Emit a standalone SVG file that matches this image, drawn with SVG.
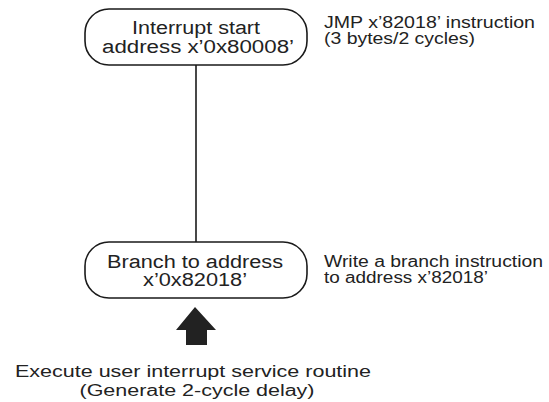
<svg xmlns="http://www.w3.org/2000/svg" width="549" height="402" viewBox="0 0 549 402">
<style>
.node{fill:#fff;stroke:#1a1a1a;stroke-width:1.6}
.t{font-family:"Liberation Sans",Arial,sans-serif;fill:#222}
.c{font-size:18px;text-anchor:middle}
.b{font-size:16px;text-anchor:middle}
.n{font-size:16px}
.conn{stroke:#1a1a1a;stroke-width:1.6;fill:none}
</style>
<rect width="549" height="402" fill="#fff"/>
<g id="connectors">
<line class="conn" x1="196" y1="65" x2="196" y2="242"/>
<polygon id="up-arrow" points="195,307 216,330 207,330 207,345 186,345 186,330 176,330" fill="#222"/>
</g>
<g id="node-start">
<rect class="node" x="85" y="9" width="222" height="56" rx="24" ry="24"/>
<text class="t c" x="196" y="34" textLength="128" lengthAdjust="spacingAndGlyphs">Interrupt start</text>
<text class="t c" x="198" y="53" textLength="192" lengthAdjust="spacingAndGlyphs">address x’0x80008’</text>
</g>
<g id="note-jmp">
<text class="t n" x="324" y="28" textLength="211" lengthAdjust="spacingAndGlyphs">JMP x’82018’ instruction</text>
<text class="t n" x="324" y="44" textLength="151" lengthAdjust="spacingAndGlyphs">(3 bytes/2 cycles)</text>
</g>
<g id="node-branch">
<rect class="node" x="85" y="242" width="222" height="56" rx="24" ry="24"/>
<text class="t c" x="195" y="268" textLength="176" lengthAdjust="spacingAndGlyphs">Branch to address</text>
<text class="t c" x="195" y="286" textLength="104" lengthAdjust="spacingAndGlyphs">x’0x82018’</text>
</g>
<g id="note-branch">
<text class="t n" x="324" y="267" textLength="219" lengthAdjust="spacingAndGlyphs">Write a branch instruction</text>
<text class="t n" x="324" y="283" textLength="164" lengthAdjust="spacingAndGlyphs">to address x’82018’</text>
</g>
<g id="label-isr">
<text class="t b" x="193" y="377" textLength="356" lengthAdjust="spacingAndGlyphs">Execute user interrupt service routine</text>
<text class="t b" x="197" y="396" textLength="235" lengthAdjust="spacingAndGlyphs">(Generate 2-cycle delay)</text>
</g>
</svg>
